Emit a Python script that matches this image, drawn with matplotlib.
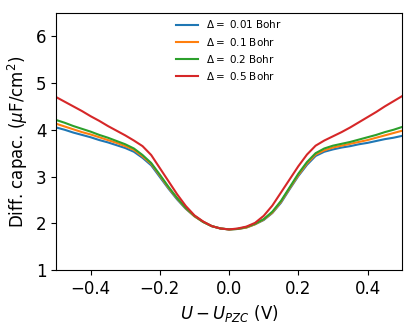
import numpy as np
import matplotlib
matplotlib.use("Agg")
import matplotlib.pyplot as plt

# potential relative to PZC (V)
u = np.round(np.arange(-0.5, 0.5001, 0.025), 3)

# differential capacitance (uF/cm^2) for each displacement
c_001 = [4.05, 4.00, 3.94, 3.89, 3.84, 3.78, 3.73, 3.67, 3.61, 3.53,
         3.40, 3.24, 2.99, 2.74, 2.51, 2.31, 2.15, 2.03, 1.94, 1.89,
         1.87,
         1.88, 1.91, 1.98, 2.07, 2.22, 2.44, 2.73, 3.01, 3.25, 3.44,
         3.53, 3.58, 3.62, 3.65, 3.69, 3.72, 3.76, 3.80, 3.83, 3.87]
c_01 = [4.13, 4.07, 4.01, 3.95, 3.90, 3.84, 3.78, 3.72, 3.65, 3.57,
        3.43, 3.27, 3.02, 2.76, 2.53, 2.32, 2.15, 2.03, 1.94, 1.89,
        1.87,
        1.88, 1.91, 1.98, 2.08, 2.23, 2.46, 2.75, 3.03, 3.28, 3.47,
        3.56, 3.62, 3.66, 3.70, 3.74, 3.78, 3.83, 3.88, 3.93, 3.98]
c_02 = [4.21, 4.15, 4.08, 4.02, 3.96, 3.89, 3.83, 3.76, 3.69, 3.60,
        3.46, 3.29, 3.04, 2.78, 2.54, 2.33, 2.16, 2.03, 1.94, 1.89,
        1.87,
        1.88, 1.92, 1.99, 2.09, 2.25, 2.48, 2.77, 3.06, 3.31, 3.50,
        3.60, 3.66, 3.70, 3.74, 3.79, 3.84, 3.89, 3.95, 4.00, 4.06]
c_05 = [4.70, 4.60, 4.50, 4.40, 4.29, 4.19, 4.08, 3.98, 3.88, 3.77,
        3.65, 3.46, 3.18, 2.90, 2.62, 2.37, 2.17, 2.04, 1.94, 1.89,
        1.87,
        1.89, 1.93, 2.01, 2.16, 2.38, 2.66, 2.94, 3.22, 3.47, 3.66,
        3.77, 3.86, 3.95, 4.05, 4.16, 4.27, 4.38, 4.50, 4.61, 4.72]

labels = [r'$\Delta=$ 0.01 Bohr', r'$\Delta=$ 0.1 Bohr',
          r'$\Delta=$ 0.2 Bohr', r'$\Delta=$ 0.5 Bohr']

fig = plt.figure(figsize=(4.15, 3.29), dpi=100)
ax = fig.add_axes([0.135, 0.179, 0.834, 0.782])

for c, lab in zip([c_001, c_01, c_02, c_05], labels):
    ax.plot(u, c, lw=1.5, label=lab)

ax.set_xlim(-0.5, 0.5)
ax.set_ylim(1, 6.5)
ax.set_xticks([-0.4, -0.2, 0.0, 0.2, 0.4])
ax.set_yticks([1, 2, 3, 4, 5, 6])
ax.tick_params(labelsize=12)
ax.set_xlabel(r'$U-U_{PZC}$ (V)', fontsize=12)
ax.set_ylabel(r'Diff. capac. ($\mu$F/cm$^2$)', fontsize=12)
ax.legend(loc='upper center', bbox_to_anchor=(0.5, 1.015), frameon=False,
          fontsize=7.5, handlelength=2.1)

fig.savefig('out.png', dpi=100)
